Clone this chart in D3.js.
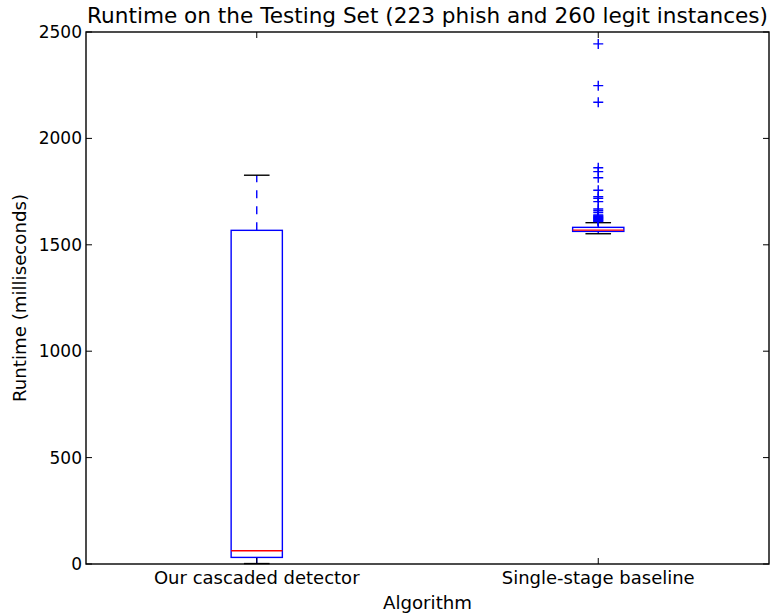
<!DOCTYPE html>
<html>
<head>
<meta charset="utf-8">
<script src="https://cdn.jsdelivr.net/npm/d3@7"></script>
<style>
  body { margin: 0; background: #fff; }
  svg { display: block; font-family: "DejaVu Sans", sans-serif; }
</style>
</head>
<body>
<div id="chart"></div>
<script>
// Box summaries per algorithm (milliseconds)
const categories = ["Our cascaded detector", "Single-stage baseline"];
const whiskerLow = [2, 1552];
const q1 = [31, 1563];
const medians = [62, 1569];
const q3 = [1568, 1582];
const whiskerHigh = [1827, 1604];
const outliers = [
  [],
  [2444, 2248, 2170, 1862, 1844, 1815, 1756, 1726, 1718, 1703, 1668, 1660, 1651,
   1640, 1636, 1633, 1630, 1627, 1624, 1621, 1618, 1615, 1612, 1609]
];
const yTicks = [0, 500, 1000, 1500, 2000, 2500];

const width = 775, height = 615;
const margin = { top: 32, right: 6, bottom: 51, left: 86 };
const plotW = width - margin.left - margin.right;
const plotH = height - margin.top - margin.bottom;

const svg = d3.select("#chart").append("svg")
  .attr("width", width).attr("height", height);

const x = d3.scaleLinear().domain([0.5, 2.5]).range([margin.left, margin.left + plotW]);
const y = d3.scaleLinear().domain([0, 2500]).range([margin.top + plotH, margin.top]);

const boxHalf = (x(1.075) - x(1));
const capHalf = boxHalf / 2;
const lw = 1.4;

const g = svg.append("g");

categories.forEach((c, i) => {
  const cx = x(i + 1);
  // whiskers (dashed)
  g.append("line").attr("x1", cx).attr("x2", cx)
    .attr("y1", y(q3[i])).attr("y2", y(whiskerHigh[i]))
    .attr("stroke", "blue").attr("stroke-width", lw).attr("stroke-dasharray", "8,8");
  g.append("line").attr("x1", cx).attr("x2", cx)
    .attr("y1", y(q1[i])).attr("y2", y(whiskerLow[i]))
    .attr("stroke", "blue").attr("stroke-width", lw).attr("stroke-dasharray", "8,8");
  // caps
  [whiskerLow[i], whiskerHigh[i]].forEach(v => {
    g.append("line").attr("x1", cx - capHalf).attr("x2", cx + capHalf)
      .attr("y1", y(v)).attr("y2", y(v))
      .attr("stroke", "black").attr("stroke-width", lw);
  });
  // box
  g.append("rect").attr("x", cx - boxHalf).attr("width", boxHalf * 2)
    .attr("y", y(q3[i])).attr("height", y(q1[i]) - y(q3[i]))
    .attr("fill", "none").attr("stroke", "blue").attr("stroke-width", lw);
  // median
  g.append("line").attr("x1", cx - boxHalf).attr("x2", cx + boxHalf)
    .attr("y1", y(medians[i])).attr("y2", y(medians[i]))
    .attr("stroke", "red").attr("stroke-width", lw);
  // fliers
  outliers[i].forEach(v => {
    const py = y(v);
    g.append("path").attr("d", `M${cx - 5},${py}H${cx + 5}M${cx},${py - 5}V${py + 5}`)
      .attr("stroke", "blue").attr("stroke-width", lw).attr("fill", "none");
  });
});

// frame
svg.append("rect").attr("x", margin.left).attr("y", margin.top)
  .attr("width", plotW).attr("height", plotH)
  .attr("fill", "none").attr("stroke", "black").attr("stroke-width", lw);

// y ticks (inside, both sides)
const tickLen = 6;
yTicks.forEach(t => {
  const py = y(t);
  svg.append("line").attr("x1", margin.left).attr("x2", margin.left + tickLen)
    .attr("y1", py).attr("y2", py).attr("stroke", "black").attr("stroke-width", 1);
  svg.append("line").attr("x1", margin.left + plotW).attr("x2", margin.left + plotW - tickLen)
    .attr("y1", py).attr("y2", py).attr("stroke", "black").attr("stroke-width", 1);
  svg.append("text").attr("x", margin.left - 4).attr("y", py)
    .attr("dy", "0.35em").attr("text-anchor", "end")
    .attr("font-size", 17).text(t);
});

// x ticks
categories.forEach((c, i) => {
  const px = x(i + 1);
  svg.append("line").attr("x1", px).attr("x2", px)
    .attr("y1", margin.top + plotH).attr("y2", margin.top + plotH - tickLen)
    .attr("stroke", "black").attr("stroke-width", 1);
  svg.append("line").attr("x1", px).attr("x2", px)
    .attr("y1", margin.top).attr("y2", margin.top + tickLen)
    .attr("stroke", "black").attr("stroke-width", 1);
  svg.append("text").attr("x", px).attr("y", margin.top + plotH + 20)
    .attr("text-anchor", "middle").attr("font-size", 18).text(c);
});

// labels
svg.append("text").attr("x", margin.left + plotW / 2).attr("y", 23)
  .attr("text-anchor", "middle").attr("font-size", 21.6)
  .text("Runtime on the Testing Set (223 phish and 260 legit instances)");
svg.append("text").attr("x", margin.left + plotW / 2).attr("y", 609)
  .attr("text-anchor", "middle").attr("font-size", 18.2).text("Algorithm");
svg.append("text")
  .attr("transform", `translate(26,${margin.top + plotH / 2}) rotate(-90)`)
  .attr("text-anchor", "middle").attr("font-size", 18.2).text("Runtime (milliseconds)");
</script>
</body>
</html>
